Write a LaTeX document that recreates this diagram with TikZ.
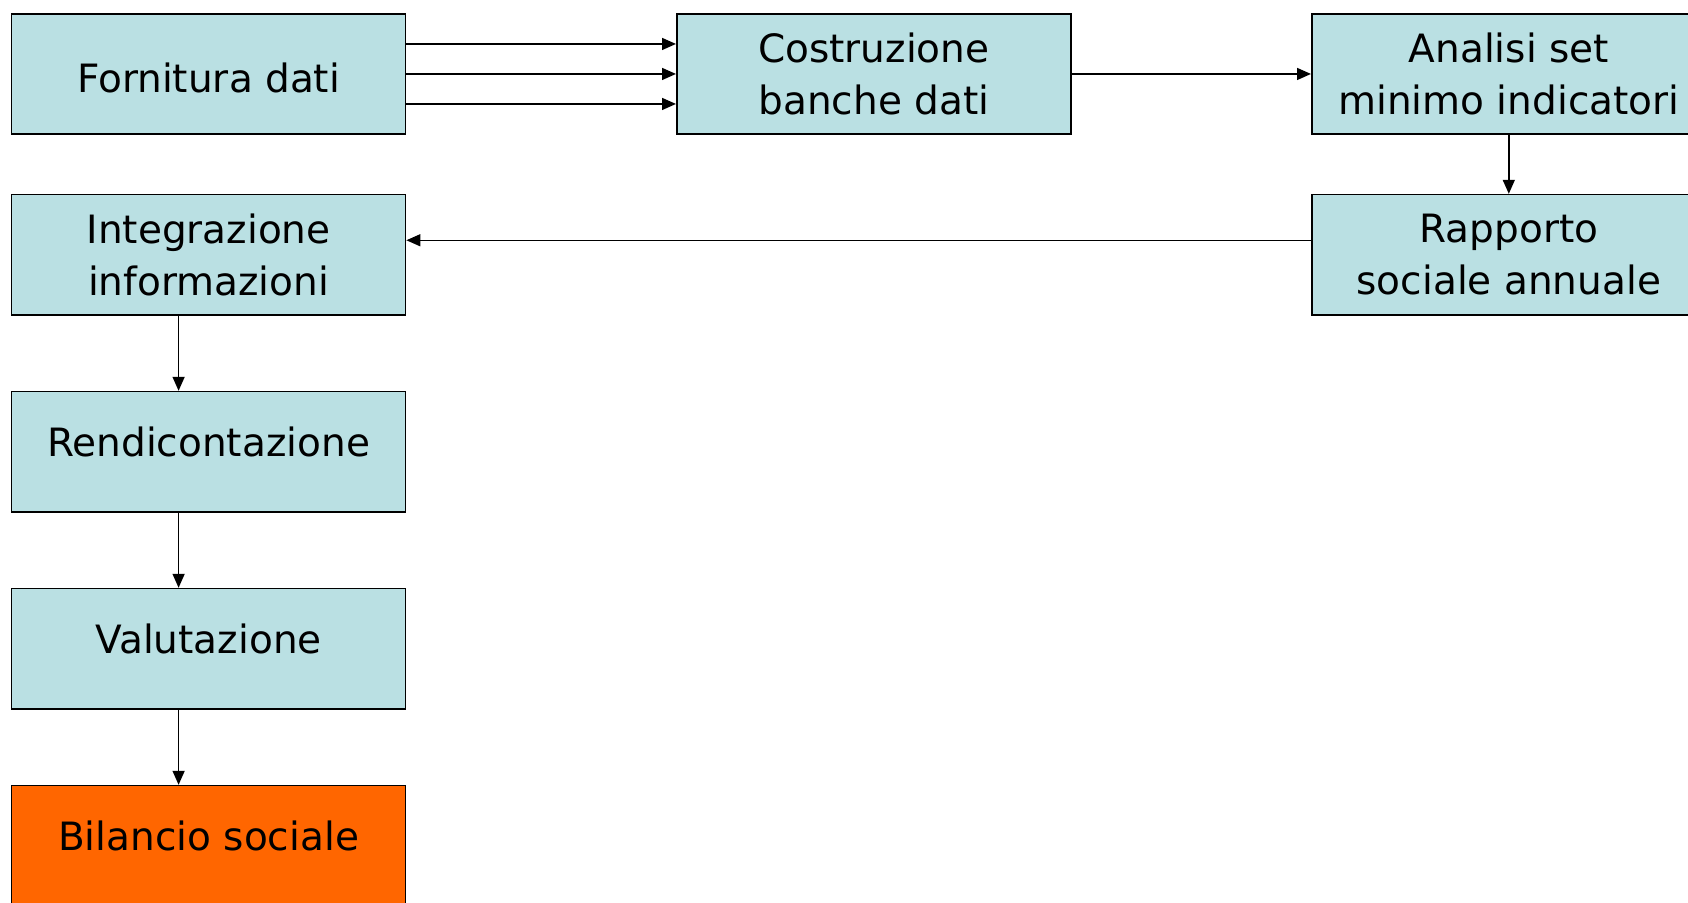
\documentclass[tikz,border=0pt]{standalone}
\usepackage{fontspec}
\setmainfont{DejaVu Sans}
\usetikzlibrary{arrows.meta,positioning}
\definecolor{bsbox}{HTML}{BAE0E3}
\definecolor{bsfinal}{HTML}{FF6600}

\begin{document}
\begin{tikzpicture}[x=0.5pt,y={(0,-0.5pt)},line join=miter,
  font=\fontsize{19.5}{26}\selectfont,
  passo/.style={draw=black,line width=0.8pt,fill=bsbox,minimum width=197pt,
    minimum height=60.25pt,inner sep=0pt,align=center,anchor=north west},
  su/.style={text depth=10pt},
  giu/.style={text height=19pt},
  freccia/.style={-{Triangle[length=7pt,width=6pt]},line width=0.75pt}]
\path[use as bounding box] (0,0) rectangle (1688,902);
\fill[white] (0,0) rectangle (1688,902);

% riga in alto
\node[passo,giu] (fornitura) at (10.8,12.9) {Fornitura dati};
\node[passo] (costruzione) at (676,12.9) {Costruzione\\banche dati};
\node[passo] (analisi) at (1311,12.9) {Analisi set\\minimo indicatori};
\node[passo] (rapporto) at (1311,193.8) {Rapporto\\sociale annuale};
% colonna a sinistra
\node[passo] (integrazione) at (10.8,193.8) {Integrazione\\informazioni};
\node[passo,su] (rendicontazione) at (10.8,390.8) {Rendicontazione};
\node[passo,su] (valutazione) at (10.8,587.8) {Valutazione};
\node[passo,su,fill=bsfinal] (bilancio) at (10.8,784.8) {Bilancio sociale};

\foreach \dy in {-15pt,0pt,15pt}
  \draw[freccia] ([yshift=\dy]fornitura.east) -- ([yshift=\dy]costruzione.west);
\draw[freccia] (costruzione) -- (analisi);
\draw[freccia] (analisi) -- (rapporto);
\draw[freccia] ([yshift=7.3pt]rapporto.west) -- ([yshift=7.3pt]integrazione.east);
\draw[freccia] ([xshift=-15pt]integrazione.south) -- ([xshift=-15pt]rendicontazione.north);
\draw[freccia] ([xshift=-15pt]rendicontazione.south) -- ([xshift=-15pt]valutazione.north);
\draw[freccia] ([xshift=-15pt]valutazione.south) -- ([xshift=-15pt]bilancio.north);
\end{tikzpicture}
\end{document}
